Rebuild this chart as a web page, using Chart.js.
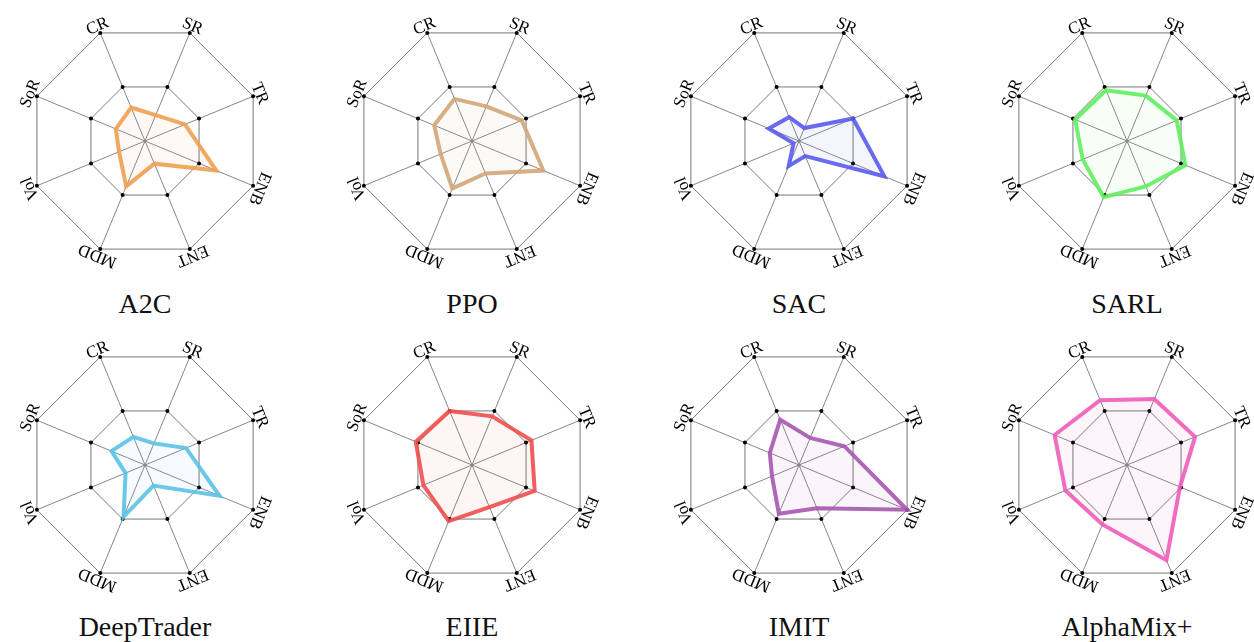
<!DOCTYPE html>
<html>
<head>
<meta charset="utf-8">
<script src="https://cdn.jsdelivr.net/npm/chart.js@4/dist/chart.umd.min.js"></script>
<style>
  body { margin: 0; background: #fff; width: 1254px; height: 642px; position: relative; overflow: hidden; }
  canvas { position: absolute; }
  .title { position: absolute; width: 240px; text-align: center; font-family: "Liberation Serif", "DejaVu Serif", serif; font-size: 28px; color: #111; line-height: 1; }
</style>
</head>
<body>
<script>
// axes, clockwise starting just left of top
const metrics = ['CR', 'SR', 'TR', 'ENB', 'ENT', 'MDD', 'Vol', 'SoR'];

const methods = ['A2C', 'PPO', 'SAC', 'SARL', 'DeepTrader', 'EIIE', 'IMIT', 'AlphaMix+'];

// values, scale 0..1 (inner octagon = 0.5)
const a2c        = [0.31, 0.24, 0.37, 0.66, 0.21, 0.42, 0.24, 0.27];
const ppo        = [0.39, 0.32, 0.46, 0.66, 0.30, 0.44, 0.29, 0.35];
const sac        = [0.22, 0.12, 0.50, 0.79, 0.14, 0.23, 0.05, 0.28];
const sarl       = [0.47, 0.42, 0.46, 0.54, 0.42, 0.52, 0.41, 0.48];
const deepTrader = [0.26, 0.20, 0.38, 0.69, 0.19, 0.48, 0.18, 0.31];
const eiie       = [0.50, 0.45, 0.55, 0.58, 0.39, 0.52, 0.45, 0.52];
const imit       = [0.42, 0.25, 0.42, 1.00, 0.40, 0.45, 0.25, 0.27];
const alphaMix   = [0.60, 0.61, 0.63, 0.49, 0.88, 0.55, 0.57, 0.67];

const seriesValues = [a2c, ppo, sac, sarl, deepTrader, eiie, imit, alphaMix];
const seriesColors = ['240,160,80', '210,166,121', '90,90,240', '95,240,95',
                      '91,194,230', '240,78,78', '166,86,176', '240,92,186'];

const centersX = [145, 472, 799, 1127];
const centersY = [141, 465];
const titleY = [290, 613];

// dots on grid vertices + rotated axis labels
const radarDecor = {
  id: 'radarDecor',
  beforeDatasetsDraw(chart) {
    const s = chart.scales.r;
    const ctx = chart.ctx;
    ctx.save();
    [0.5, 1].forEach(v => {
      for (let i = 0; i < metrics.length; i++) {
        const p = s.getPointPositionForValue(i, v);
        ctx.beginPath();
        ctx.arc(p.x, p.y, 2, 0, Math.PI * 2);
        ctx.fillStyle = '#000';
        ctx.fill();
      }
    });
    ctx.beginPath();
    ctx.arc(s.xCenter, s.yCenter, 1.6, 0, Math.PI * 2);
    ctx.fillStyle = '#888';
    ctx.fill();
    ctx.restore();
  },
  afterDraw(chart) {
    const s = chart.scales.r;
    const ctx = chart.ctx;
    ctx.save();
    ctx.font = '17px "Liberation Serif", "DejaVu Serif", serif';
    ctx.fillStyle = '#000';
    ctx.textAlign = 'center';
    ctx.textBaseline = 'alphabetic';
    for (let i = 0; i < metrics.length; i++) {
      const p = s.getPointPosition(i, s.drawingArea + 2.5);
      ctx.save();
      ctx.translate(p.x, p.y);
      ctx.rotate(p.angle + Math.PI / 2);
      ctx.fillText(metrics[i], 0, 0);
      ctx.restore();
    }
    ctx.restore();
  }
};

methods.forEach((name, k) => {
  const col = k % 4, row = Math.floor(k / 4);
  const cx = centersX[col], cy = centersY[row];
  const cv = document.createElement('canvas');
  cv.width = 290; cv.height = 290;
  cv.style.left = (cx - 145) + 'px';
  cv.style.top = (cy - 145) + 'px';
  document.body.appendChild(cv);

  const t = document.createElement('div');
  t.className = 'title';
  t.textContent = name;
  t.style.left = (cx - 120) + 'px';
  t.style.top = titleY[row] + 'px';
  document.body.appendChild(t);

  const c = seriesColors[k];
  new Chart(cv.getContext('2d'), {
    type: 'radar',
    data: {
      labels: metrics,
      datasets: [{
        label: name,
        data: seriesValues[k],
        borderColor: 'rgba(' + c + ',0.9)',
        backgroundColor: 'rgba(' + c + ',0.06)',
        borderWidth: 4,
        pointRadius: 0,
        fill: true,
        tension: 0
      }]
    },
    options: {
      responsive: false,
      animation: false,
      layout: { padding: 28 },
      plugins: { legend: { display: false }, tooltip: { enabled: false } },
      scales: {
        r: {
          min: 0,
          max: 1,
          startAngle: -22.5,
          ticks: { display: false, stepSize: 0.5 },
          pointLabels: { display: false },
          grid: { color: '#777', lineWidth: 1 },
          angleLines: { color: '#888', lineWidth: 1 }
        }
      }
    },
    plugins: [radarDecor]
  });
});
</script>
</body>
</html>
